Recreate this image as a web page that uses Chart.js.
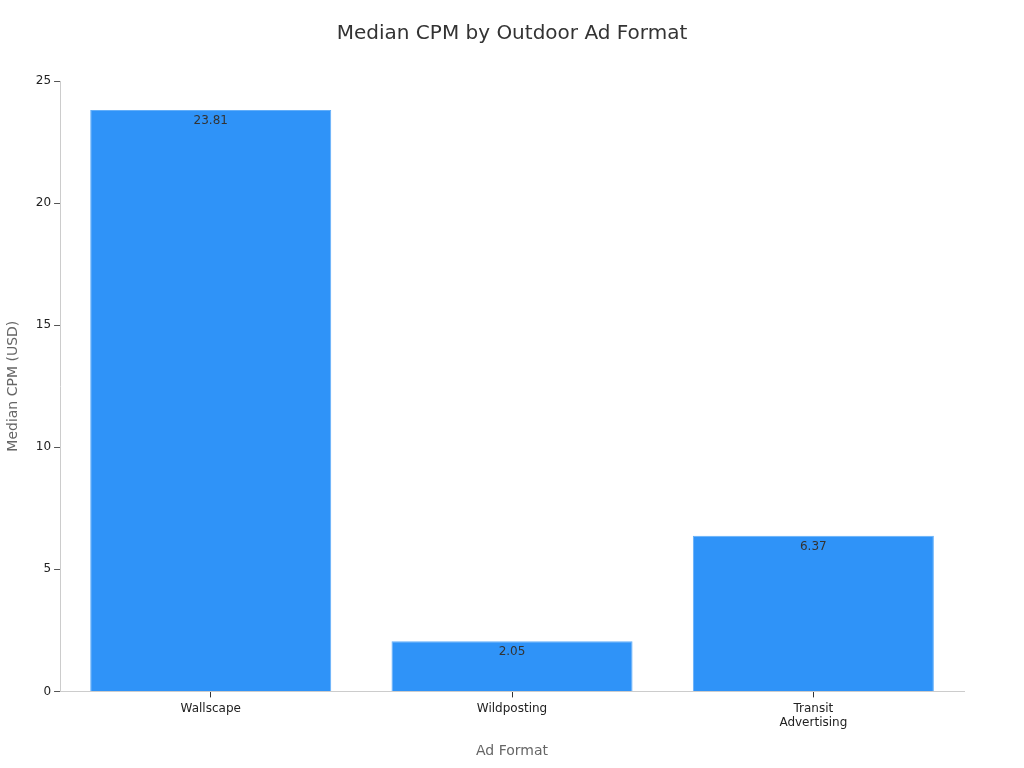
<!DOCTYPE html>
<html>
<head>
<meta charset="utf-8">
<script src="https://cdn.jsdelivr.net/npm/chart.js@4"></script>
<style>
html,body{margin:0;padding:0;background:#fff;}
#wrap{width:1024px;height:768px;position:relative;}
</style>
</head>
<body>
<div id="wrap"><canvas id="c" width="1024" height="768"></canvas></div>
<script>
const chartTitle = "Median CPM by Outdoor Ad Format";
const categories = [["Wallscape"], ["Wildposting"], ["Transit", "Advertising"]];
const cpmValues = [23.81, 2.05, 6.37];
const valueLabels = ["23.81", "2.05", "6.37"];

const FONT = "'DejaVu Sans', sans-serif";

const barLabelPlugin = {
  id: 'barLabels',
  afterDatasetsDraw(chart) {
    const ctx = chart.ctx;
    const meta = chart.getDatasetMeta(0);
    ctx.save();
    ctx.font = "12px " + FONT;
    ctx.fillStyle = '#333333';
    ctx.textAlign = 'center';
    ctx.textBaseline = 'middle';
    meta.data.forEach((bar, i) => {
      ctx.fillText(valueLabels[i], bar.x, bar.y + 11);
    });
    ctx.restore();
  }
};

const centeredTitlePlugin = {
  id: 'centeredTitle',
  afterDraw(chart) {
    const ctx = chart.ctx;
    ctx.save();
    ctx.font = "20px " + FONT;
    ctx.fillStyle = '#333333';
    ctx.textAlign = 'center';
    ctx.textBaseline = 'middle';
    ctx.fillText(chartTitle, chart.width / 2, 34);
    ctx.restore();
  }
};

new Chart(document.getElementById('c'), {
  type: 'bar',
  data: {
    labels: categories,
    datasets: [{
      data: cpmValues,
      backgroundColor: '#2f93f8',
      borderColor: '#62aef9',
      borderWidth: 1,
      categoryPercentage: 0.8,
      barPercentage: 1.0
    }]
  },
  options: {
    responsive: false,
    animation: false,
    layout: { padding: { left: 1, right: 60, top: 81, bottom: 4 } },
    plugins: {
      legend: { display: false },
      tooltip: { enabled: false },
      title: { display: false }
    },
    scales: {
      x: {
        grid: { display: true, offset: false, drawOnChartArea: false, drawTicks: true, tickLength: 6, color: '#333333' },
        border: { display: true, color: '#cccccc' },
        ticks: { color: '#222222', font: { family: FONT, size: 12 }, padding: 4, maxRotation: 0 },
        title: { display: true, text: 'Ad Format', color: '#666666', font: { family: FONT, size: 14 }, padding: { top: 9 } }
      },
      y: {
        min: 0, max: 25,
        grid: { display: true, drawOnChartArea: false, drawTicks: true, tickLength: 6, color: '#555555' },
        border: { display: true, color: '#cccccc' },
        ticks: { stepSize: 5, color: '#222222', font: { family: FONT, size: 12 }, padding: 3 },
        title: { display: true, text: 'Median CPM (USD)', color: '#666666', font: { family: FONT, size: 14 }, padding: { bottom: 11 } }
      }
    }
  },
  plugins: [barLabelPlugin, centeredTitlePlugin]
});
</script>
</body>
</html>
